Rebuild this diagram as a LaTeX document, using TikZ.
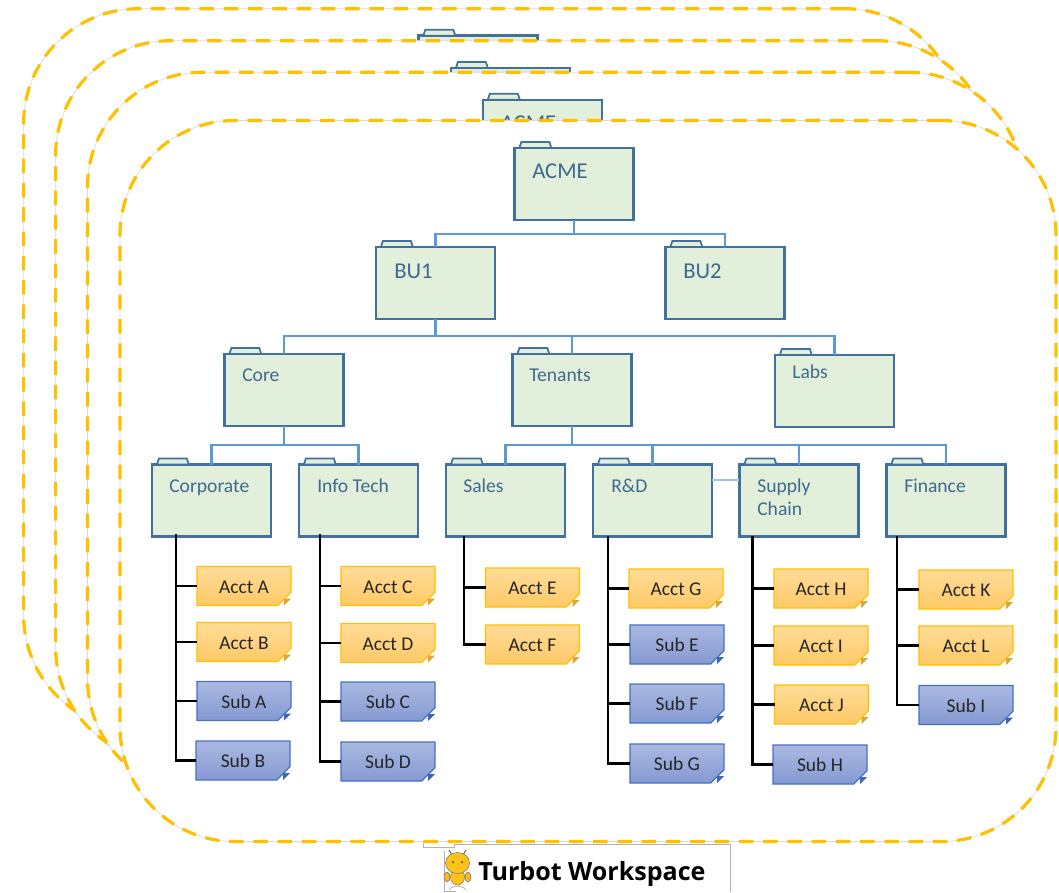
\documentclass[tikz,border=0pt]{standalone}
\usepackage{fontspec}
\setmainfont{Carlito}
\newfontfamily\brandfont{Open Sans}
\usetikzlibrary{shapes.misc}

\definecolor{framegold}{HTML}{FFC000}
\definecolor{framegrey}{HTML}{D9D9D9}
\definecolor{foldergreen}{HTML}{E2EFDA}
\definecolor{folderblue}{HTML}{41719C}
\definecolor{foldertext}{HTML}{3F6A8F}
\definecolor{linkblue}{HTML}{5B9BD5}
\definecolor{acctline}{HTML}{FFC000}
\definecolor{accttop}{HTML}{FFDC98}
\definecolor{acctbottom}{HTML}{FFC966}
\definecolor{acctfold}{HTML}{DDA63C}
\definecolor{subline}{HTML}{4472C4}
\definecolor{subtop}{HTML}{ABB9E1}
\definecolor{subbottom}{HTML}{8599D2}
\definecolor{subfold}{HTML}{3F66B2}
\definecolor{beeyellow}{HTML}{FFC21A}

\tikzset{
  workframe/.style={rectangle,rounded corners=86pt,minimum width=702pt,minimum height=540.75pt,inner sep=0pt,outer sep=0pt,
    fill=white,draw=framegrey,line width=0.5pt,
    postaction={draw=framegold,line width=2.4pt,dash pattern=on 10.9pt off 7.3pt}},
  folderbox/.style={rectangle,draw=folderblue,fill=foldergreen,line width=1.8pt,minimum width=89.5pt,minimum height=54pt,inner sep=0pt,outer sep=0pt},
  foldertab/.style={draw=folderblue,fill=foldergreen,line width=1.3pt},
  folderlabel/.style={anchor=west,inner sep=0pt,text=foldertext,text height=12.4pt,text depth=3pt,font=\fontsize{14.7}{17}\selectfont},
  toplabel/.style={folderlabel,text height=14pt,font=\fontsize{17}{20}\selectfont},
  notebox/.style={chamfered rectangle,chamfered rectangle corners=south east,chamfered rectangle xsep=5pt,chamfered rectangle ysep=5pt,
    minimum width=70.5pt,minimum height=29.25pt,inner sep=0pt,outer sep=0pt,line width=0.9pt,text=black!85,text height=11pt,text depth=0pt,font=\fontsize{14.6}{17}\selectfont},
  acctbox/.style={notebox,draw=acctline,top color=accttop,bottom color=acctbottom},
  subbox/.style={notebox,draw=subline,top color=subtop,bottom color=subbottom},
  folderlink/.style={draw=linkblue,line width=1.6pt},
  trunkline/.style={draw=black,line width=1.7pt},
  logoline/.style={draw=black!30,line width=0.6pt},
}

\begin{document}
\begin{tikzpicture}[x=0.75pt,y=0.75pt,yscale=-1]
\useasboundingbox (0,0) rectangle (1059,892);

% Stacked frames with the folders they hide
\node [workframe] (frameone) at (491.6,369.2) {};
\node [folderbox] (acmeone) at (478,71.7) {};
\node [workframe] (frametwo) at (523.6,401.2) {};
\node [folderbox] (acmetwo) at (510.5,104) {};
\node [workframe] (framethree) at (555.5,432.8) {};
\node [folderbox] (acmethree) at (542.5,135.7) {};
\node [toplabel] (acmethreetext) at (500.5,122.7) {ACME};
\foreach \n in {acmeone,acmetwo,acmethree}
  \draw [foldertab] ([shift={(5,0)}]\n.north west) -- ([shift={(7,-6)}]\n.north west) -- ([shift={(35,-6)}]\n.north west) -- ([shift={(37,0)}]\n.north west) -- cycle;
\node [workframe] (framefour) at (588,481) {};

% Folders
\node [folderbox] (acme) at (574,184) {};
\node [folderbox] (bua) at (435.5,283) {};
\node [folderbox] (bub) at (725,283) {};
\node [folderbox] (core) at (284,390) {};
\node [folderbox] (tenants) at (572,390) {};
\node [folderbox] (labs) at (834.5,391) {};
\node [folderbox] (corporate) at (211.5,500.5) {};
\node [folderbox] (infotech) at (358.5,500.5) {};
\node [folderbox] (sales) at (505.5,500.5) {};
\node [folderbox] (rnd) at (652.5,500.5) {};
\node [folderbox] (supply) at (799,500.5) {};
\node [folderbox] (finance) at (946,500.5) {};
\foreach \n in {acme,bua,bub,core,tenants,labs,corporate,infotech,sales,rnd,supply,finance}
  \draw [foldertab] ([shift={(5,0)}]\n.north west) -- ([shift={(7,-6)}]\n.north west) -- ([shift={(35,-6)}]\n.north west) -- ([shift={(37,0)}]\n.north west) -- cycle;

% Text Node
\node [toplabel] (acmetext) at (532,171) {ACME};
\node [toplabel] (buatext) at (394,271) {BU1};
\node [toplabel] (bubtext) at (683,271) {BU2};
\node [folderlabel] (coretext) at (242,375) {Core};
\node [folderlabel] (tenantstext) at (529,375) {Tenants};
\node [folderlabel] (labstext) at (792,372) {Labs};
\node [folderlabel] (corporatetext) at (169,486) {Corporate};
\node [folderlabel] (infotechtext) at (317,486) {Info Tech};
\node [folderlabel] (salestext) at (463,486) {Sales};
\node [folderlabel] (rndtext) at (611,486) {R\&D};
\node [folderlabel] (supplytext) at (757,486) {Supply};
\node [folderlabel] (chaintext) at (757,509) {Chain};
\node [folderlabel] (financetext) at (904,486) {Finance};

% Folder links
\foreach \n in {bua,bub}
  \draw [folderlink] (acme.south) -- ++(0,14) -| (\n.north);
\foreach \n in {core,tenants,labs}
  \draw [folderlink] (bua.south) -- ++(0,17) -| (\n.north);
\foreach \n in {corporate,infotech}
  \draw [folderlink] (core.south) -- ++(0,19) -| (\n.north);
\foreach \n in {sales,rnd,supply,finance}
  \draw [folderlink] (tenants.south) -- ++(0,19) -| (\n.north);
\coordinate (rndlink) at (725,480);
\draw [folderlink,draw=linkblue!60,line width=1pt] (rnd.east |- rndlink) -- (supply.west |- rndlink);

% Accounts and subfolders
\node [acctbox] (accta) at (244,586) {Acct A};
\node [acctbox] (acctb) at (244,642) {Acct B};
\node [subbox] (suba) at (244,701) {Sub A};
\node [subbox] (subb) at (243,760.5) {Sub B};
\node [acctbox] (acctc) at (388,586) {Acct C};
\node [acctbox] (acctd) at (388,643) {Acct D};
\node [subbox] (subc) at (388,701.5) {Sub C};
\node [subbox] (subd) at (388,761.5) {Sub D};
\node [acctbox] (accte) at (532.5,587.5) {Acct E};
\node [acctbox] (acctf) at (532.5,644.5) {Acct F};
\node [acctbox] (acctg) at (676,588.5) {Acct G};
\node [subbox] (sube) at (677,644.5) {Sub E};
\node [subbox] (subf) at (677,703.5) {Sub F};
\node [subbox] (subg) at (677,763.5) {Sub G};
\node [acctbox] (accth) at (821,588.5) {Acct H};
\node [acctbox] (accti) at (821,645.5) {Acct I};
\node [acctbox] (acctj) at (821.5,704.5) {Acct J};
\node [subbox] (subh) at (820,764.5) {Sub H};
\node [acctbox] (acctk) at (966,589.5) {Acct K};
\node [acctbox] (acctl) at (966,645.5) {Acct L};
\node [subbox] (subi) at (966,705) {Sub I};

% Folded corners
\foreach \n in {accta,acctb,acctc,acctd,accte,acctf,acctg,accth,accti,acctj,acctk,acctl}
  \fill [acctfold] ([shift={(-7,-7)}]\n.east |- \n.south) -- ([shift={(0,-7)}]\n.east |- \n.south) -- ([shift={(-7,0)}]\n.east |- \n.south) -- cycle;
\foreach \n in {suba,subb,subc,subd,sube,subf,subg,subh,subi}
  \fill [subfold] ([shift={(-7,-7)}]\n.east |- \n.south) -- ([shift={(0,-7)}]\n.east |- \n.south) -- ([shift={(-7,0)}]\n.east |- \n.south) -- cycle;

% Trunks start on the folder's lower edge
\coordinate (corporatefoot) at (176,534);
\coordinate (infotechfoot) at (320,534);
\coordinate (salesfoot) at (464,536);
\coordinate (rndfoot) at (608,536);
\coordinate (supplyfoot) at (752.5,536);
\coordinate (financefoot) at (897,536);
\foreach \n in {accta,acctb,suba,subb}
  \draw [trunkline] (corporatefoot) |- (\n.west);
\foreach \n in {acctc,acctd,subc,subd}
  \draw [trunkline] (infotechfoot) |- (\n.west);
\foreach \n in {accte,acctf}
  \draw [trunkline] (salesfoot) |- (\n.west);
\foreach \n in {acctg,sube,subf,subg}
  \draw [trunkline] (rndfoot) |- (\n.west);
\foreach \n in {accth,accti,acctj,subh}
  \draw [trunkline,line width=2.1pt] (supplyfoot) |- (\n.west);
\foreach \n in {acctk,acctl,subi}
  \draw [trunkline] (financefoot) |- (\n.west);

% Logo
\draw [logoline] (423,843) -- (423,847) -- (454,847) -- (454,844) -- (730,844) -- (730,892);
\draw [logoline] (444,851) -- (444,891) -- (456,891);
\draw [black!70,line width=0.6pt] (452,855) -- (449,850);
\draw [black!70,line width=0.6pt] (463,855) -- (466,850);
\fill [beeyellow!85!orange,draw=black!55,line width=0.4pt] (447,877) ellipse (3 and 5);
\fill [beeyellow!85!orange,draw=black!55,line width=0.4pt] (468,877) ellipse (3 and 5);
\fill [beeyellow,draw=black!55,line width=0.4pt] (457.5,877) ellipse (7 and 8);
\fill [beeyellow,draw=black!55,line width=0.4pt] (457.5,863) ellipse (12 and 10.5);
\fill [black!80] (453,862) circle (1);
\fill [black!80] (462,862) circle (1);
\draw [black!30,line width=0.6pt] (449,890) .. controls (452,885) and (463,885) .. (466,890);
\node [anchor=base west,inner sep=0pt,font=\brandfont\bfseries\fontsize{18.8}{22}\selectfont] (brandtext) at (478,880) {Turbot Workspace};

\end{tikzpicture}
\end{document}
